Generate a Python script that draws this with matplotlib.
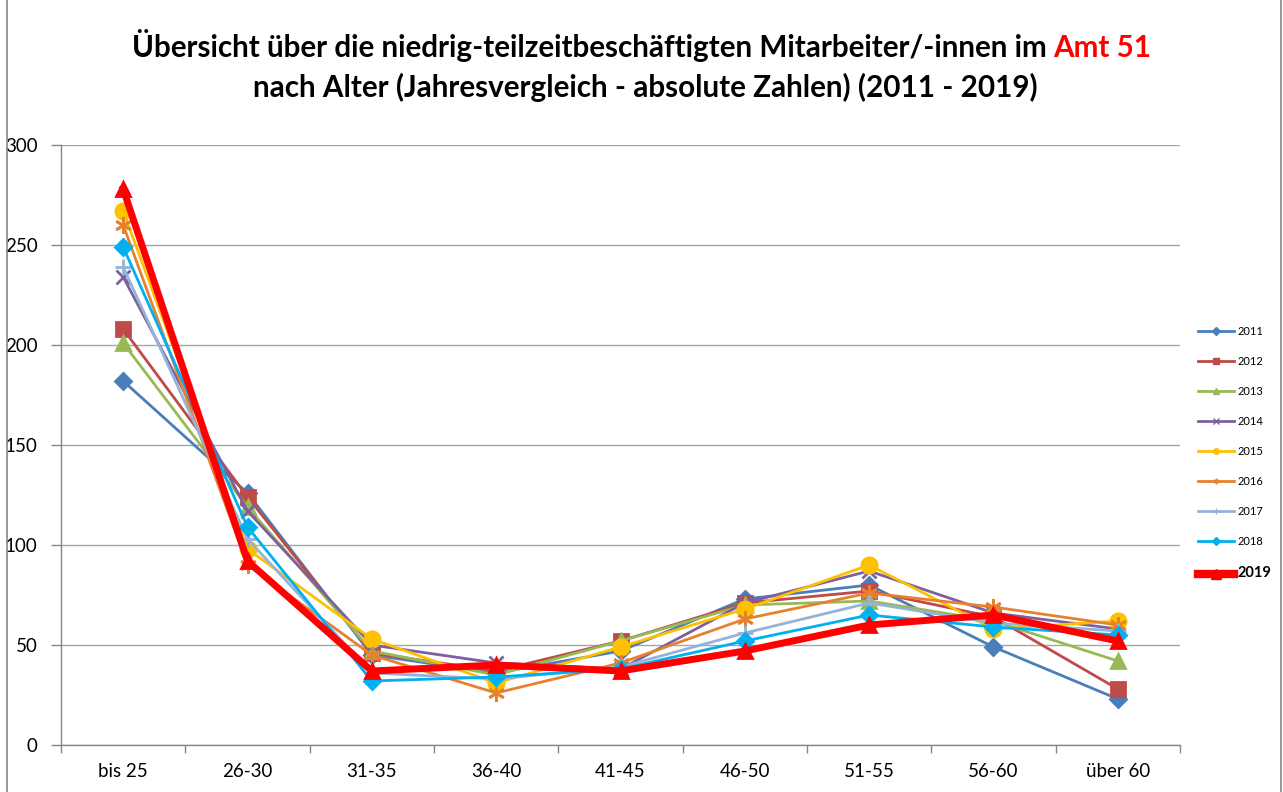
import matplotlib
matplotlib.use("Agg")
import matplotlib.pyplot as plt
from matplotlib.patches import Rectangle
from matplotlib.lines import Line2D

categories = ["bis 25", "26-30", "31-35", "36-40", "41-45", "46-50", "51-55", "56-60", "über 60"]

v2011 = [182, 126, 45, 36, 47, 73, 80, 49, 23]
v2012 = [208, 124, 46, 37, 52, 71, 77, 64, 28]
v2013 = [201, 119, 47, 35, 52, 70, 72, 62, 42]
v2014 = [234, 117, 50, 41, 38, 71, 87, 66, 58]
v2015 = [267, 98, 53, 31, 49, 68, 90, 58, 62]
v2016 = [260, 90, 45, 26, 41, 63, 76, 69, 60]
v2017 = [239, 103, 36, 33, 39, 56, 71, 61, 57]
v2018 = [249, 109, 32, 34, 38, 52, 65, 59, 55]
v2019 = [278, 92, 37, 40, 37, 47, 60, 65, 52]

years = ["2011", "2012", "2013", "2014", "2015", "2016", "2017", "2018", "2019"]
series = [v2011, v2012, v2013, v2014, v2015, v2016, v2017, v2018, v2019]
colors = ["#4A7EBB", "#BE4B48", "#98B954", "#7D60A0", "#FFC000", "#E6822E",
          "#95B3D7", "#00B0F0", "#FF0000"]
markers = ["D", "s", "^", "x", "o", (6, 2, 0), "+", "D", "^"]
msizes = [8, 10, 10, 10, 11, 12, 12, 8, 10]
lwidths = [2.0, 2.0, 2.0, 2.0, 2.0, 2.0, 2.0, 2.0, 5.0]

plt.rcParams["font.family"] = ["Lato", "DejaVu Sans"]

fig = plt.figure(figsize=(12.83, 7.92), dpi=100)
ax = fig.add_axes([61 / 1283, 1 - 745 / 792, (1180 - 61) / 1283, 600 / 792])

x = list(range(len(categories)))
handles = []
for yr, vals, c, m, ms, lw in zip(years, series, colors, markers, msizes, lwidths):
    ax.plot(x, vals, color=c, lw=lw, marker=m, markersize=ms,
            markerfacecolor=c, markeredgecolor=c, markeredgewidth=2.0,
            solid_joinstyle="round", zorder=3)
    handles.append(Line2D([0], [0], color=c, lw=lw if yr != "2019" else 6,
                          marker=m, markersize=4 if yr != "2019" else 7,
                          markerfacecolor=c, markeredgecolor=c))

ax.set_xlim(-0.5, len(categories) - 0.5)
ax.set_ylim(0, 300)
ax.set_yticks(range(0, 301, 50))
ax.set_xticks(x)
ax.set_xticklabels(categories)
ax.set_xticks([i - 0.5 for i in range(len(categories) + 1)], minor=True)
ax.tick_params(axis="x", which="major", length=0, pad=13, labelsize=13.5)
ax.tick_params(axis="x", which="minor", length=6, color="#868686", width=1)
ax.tick_params(axis="y", length=7, color="#868686", width=1, pad=10, labelsize=13.5)
ax.grid(axis="y", color="#A6A6A6", lw=1, zorder=0)
ax.set_axisbelow(True)
for s in ("top", "right"):
    ax.spines[s].set_visible(False)
for s in ("left", "bottom"):
    ax.spines[s].set_color("#868686")
    ax.spines[s].set_linewidth(1)

leg = fig.legend(handles, years, loc="upper left",
                 bbox_to_anchor=(1192 / 1283, 1 - 320 / 792),
                 frameon=False, fontsize=8, handlelength=3.3,
                 labelspacing=1.72, handletextpad=0.3, borderpad=0)
for t in leg.get_texts():
    if t.get_text() == "2019":
        t.set_fontweight("bold")
        t.set_fontsize(10.5)

# chart frame
fig.patches.append(Rectangle((7 / 1283, -0.01), (1281 - 7) / 1283, 1.02,
                             transform=fig.transFigure, fill=False,
                             edgecolor="#868686", lw=1.2))

# two-line title, first line with a red part
title_kw = dict(fontsize=21.3, fontweight="bold", va="baseline")
t1 = fig.text(0, 1 - 57 / 792,
              "Übersicht über die niedrig-teilzeitbeschäftigten Mitarbeiter/-innen im ",
              color="black", **title_kw)
t2 = fig.text(0, 1 - 57 / 792, "Amt 51", color="#FF0000", **title_kw)
fig.text(645 / 1283, 1 - 97 / 792,
         "nach Alter (Jahresvergleich - absolute Zahlen) (2011 - 2019)",
         color="black", ha="center", **title_kw)

fig.canvas.draw()
r = fig.canvas.get_renderer()
w1 = t1.get_window_extent(r).width
w2 = t2.get_window_extent(r).width
start = 641.5 - (w1 + w2) / 2
t1.set_x(start / 1283)
t2.set_x((start + w1) / 1283)

fig.savefig("out.png", dpi=100)
